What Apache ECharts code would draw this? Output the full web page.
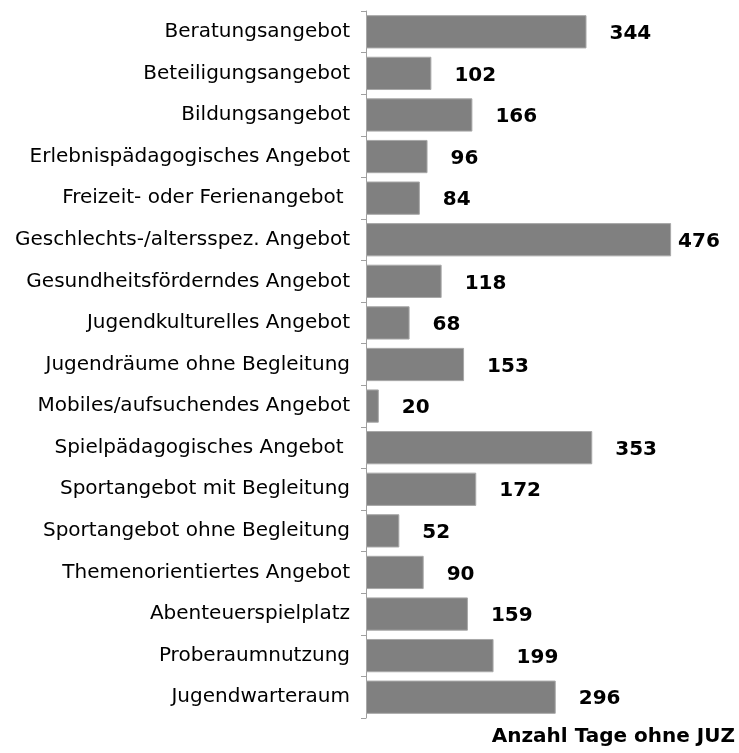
<!DOCTYPE html>
<html lang="de">
<head>
    <meta charset="UTF-8">
    <title>Anzahl Tage ohne JUZ</title>
    <script src="https://cdn.jsdelivr.net/npm/echarts@6/dist/echarts.min.js"></script>
    <style>
        html, body { margin: 0; padding: 0; background: #fff; }
        #main { width: 739px; height: 753px; }
    </style>
</head>
<body>
    <div id="main"></div>
    <script>
        // Kategorien (von oben nach unten)
        const categories = [
            'Beratungsangebot',
            'Beteiligungsangebot',
            'Bildungsangebot',
            'Erlebnispädagogisches Angebot',
            'Freizeit- oder Ferienangebot ',
            'Geschlechts-/altersspez. Angebot',
            'Gesundheitsförderndes Angebot',
            'Jugendkulturelles Angebot',
            'Jugendräume ohne Begleitung',
            'Mobiles/aufsuchendes Angebot',
            'Spielpädagogisches Angebot ',
            'Sportangebot mit Begleitung',
            'Sportangebot ohne Begleitung',
            'Themenorientiertes Angebot',
            'Abenteuerspielplatz',
            'Proberaumnutzung',
            'Jugendwarteraum'
        ]
        const tage = [344, 102, 166, 96, 84, 476, 118, 68, 153, 20, 353, 172, 52, 90, 159, 199, 296]
        const axisTitle = 'Anzahl Tage ohne JUZ'

        const font = 'Verdana, "DejaVu Sans", sans-serif'

        // beim längsten Balken sitzt die Beschriftung näher dran
        const maxVal = Math.max(...tage)
        const barData = tage.map(v => v === maxVal
            ? { value: v, label: { distance: 7 } }
            : v)

        let chart = echarts.init(document.querySelector('#main'))
        let option = {
            animation: false,
            grid: { left: 366, top: 11, bottom: 35, width: 320.5, containLabel: false },
            xAxis: {
                type: 'value',
                min: 0,
                max: 500,
                show: false
            },
            yAxis: {
                type: 'category',
                data: categories,
                inverse: true,
                axisLine: { show: true, lineStyle: { color: '#a0a0a0', width: 1 } },
                axisTick: { show: true, length: 5, lineStyle: { color: '#a0a0a0' } },
                axisLabel: { color: '#000', fontFamily: font, fontSize: 20, margin: 16 },
                splitLine: { show: false }
            },
            series: [
                {
                    type: 'bar',
                    data: barData,
                    barCategoryGap: '20%',
                    itemStyle: { color: '#808080', borderColor: '#a8a8a8', borderWidth: 1 },
                    label: {
                        show: true,
                        position: 'right',
                        distance: 23,
                        offset: [0, 2],
                        color: '#000',
                        fontFamily: font,
                        fontWeight: 'bold',
                        fontSize: 20
                    }
                }
            ],
            graphic: [
                {
                    type: 'text',
                    right: 4,
                    top: 727,
                    style: {
                        text: axisTitle,
                        fill: '#000',
                        font: 'bold 20px ' + font
                    }
                }
            ]
        }
        chart.setOption(option)
    </script>
</body>
</html>
